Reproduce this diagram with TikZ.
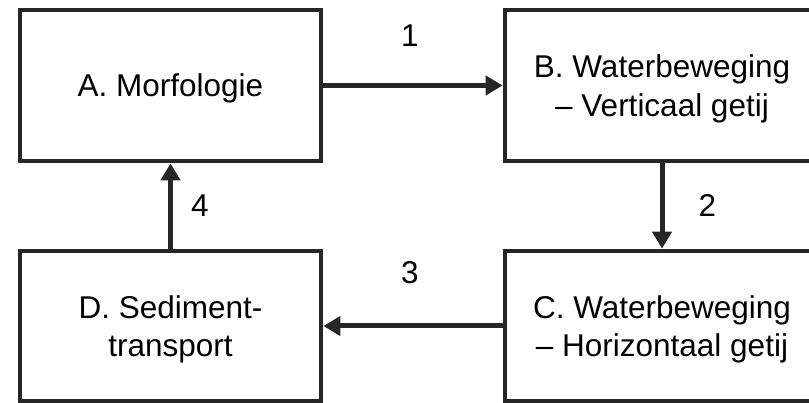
\documentclass[tikz,border=0pt]{standalone}
\usepackage{fontspec}
\setmainfont{Liberation Sans}
\usetikzlibrary{arrows.meta}
\definecolor{linecol}{RGB}{38,38,38}
\definecolor{textcol}{RGB}{0,0,0}
\newcommand\firststrut{\rule{0pt}{0.93em}}
\begin{document}
\begin{tikzpicture}[x=1pt,y=-1pt,
  box/.style={draw=linecol, line width=4.7pt, rectangle, inner sep=0pt, align=center,
    text=textcol, font=\fontsize{31.5pt}{38.5pt}\selectfont},
  flow/.style={draw=linecol, line width=5pt, -{Triangle[length=17pt,width=19pt]}},
  num/.style={inner sep=0pt, text=textcol, font=\fontsize{31.5pt}{38.5pt}\selectfont}]
\useasboundingbox (0,0) rectangle (809,403);
\clip (0,0) rectangle (809,403);
\node[box, minimum width=301pt, minimum height=151pt] (A) at (170.5,85.5) {\firststrut A. Morfologie};
\node[box, minimum width=314pt, minimum height=151pt] (B) at (662,85.5) {\firststrut B. Waterbeweging\\– Verticaal getij};
\node[box, minimum width=314pt, minimum height=150pt] (C) at (662,326) {\firststrut C. Waterbeweging\\– Horizontaal getij};
\node[box, minimum width=301pt, minimum height=150pt] (D) at (170.5,326) {\firststrut D. Sediment-\\transport};
\draw[flow] (A.east) -- node[num, midway, above=36pt, xshift=-3pt] (n1) {1} (B.west);
\draw[flow] (B.south) -- node[num, midway, right=34pt] (n2) {2} (C.north);
\draw[flow] (C.west) -- node[num, midway, above=40pt, xshift=-3pt] (n3) {3} (D.east);
\draw[flow] (D.north) -- node[num, midway, right=18pt] (n4) {4} (A.south);
\end{tikzpicture}
\end{document}
